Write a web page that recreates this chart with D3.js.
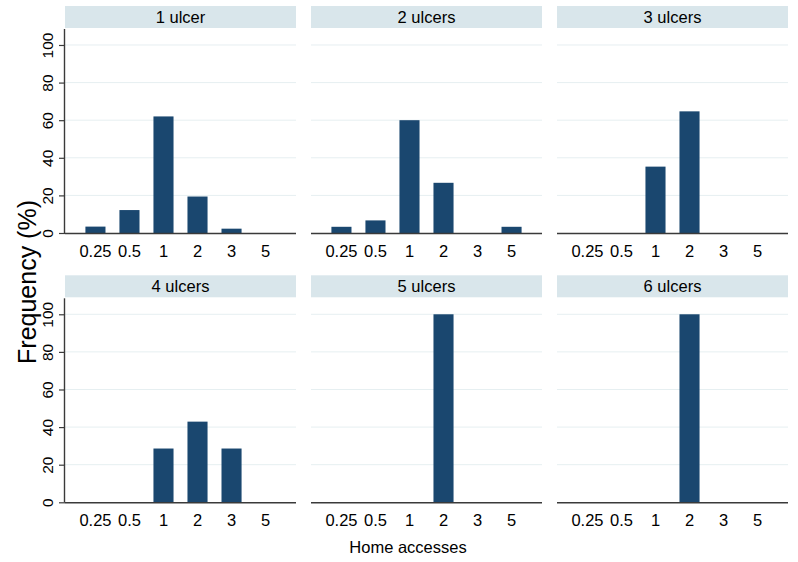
<!DOCTYPE html>
<html>
<head>
<meta charset="utf-8">
<script src="https://cdn.jsdelivr.net/npm/d3@7"></script>
<style>
  html, body { margin: 0; padding: 0; background: #fff; }
  text { font-family: "Liberation Sans", Arial, Helvetica, sans-serif; fill: #000; }
</style>
</head>
<body>
<svg id="chart" width="798" height="562"></svg>
<script>
// ---- data ----
const categories = ["0.25", "0.5", "1", "2", "3", "5"];
const panelTitles = ["1 ulcer", "2 ulcers", "3 ulcers", "4 ulcers", "5 ulcers", "6 ulcers"];
const ulcer1 = [3.4, 12.2, 62.0, 19.4, 2.3, 0];
const ulcer2 = [3.3, 6.7, 60.0, 26.7, 0, 3.3];
const ulcer3 = [0, 0, 35.3, 64.7, 0, 0];
const ulcer4 = [0, 0, 28.6, 42.9, 28.6, 0];
const ulcer5 = [0, 0, 0, 100, 0, 0];
const ulcer6 = [0, 0, 0, 100, 0, 0];
const yTicks = [0, 20, 40, 60, 80, 100];
const xTitle = "Home accesses";
const yTitle = "Frequency (%)";

const series = [ulcer1, ulcer2, ulcer3, ulcer4, ulcer5, ulcer6];

// ---- layout ----
const svg = d3.select("#chart");
const colX = [65, 311, 557];
const panelW = 231;
const rowTop = [6, 275.3];      // strip top
const stripH = 22;
const plotH = 204;              // from strip bottom+1 to baseline
const yMax = 108.5;

const barColor = "#1a476f";
const stripColor = "#d9e6eb";
const gridColor = "#e6eff1";
const axisColor = "#3a3a3a";
const FONT = "'Liberation Sans', Arial, sans-serif";

series.forEach((vals, i) => {
  const col = i % 3, row = Math.floor(i / 3);
  const x0 = colX[col], x1 = x0 + panelW;
  const sTop = rowTop[row];
  const pTop = sTop + stripH + 1;
  const pBot = pTop + plotH;

  const g = svg.append("g");

  // strip
  g.append("rect").attr("x", x0).attr("y", sTop).attr("width", panelW).attr("height", stripH)
    .attr("fill", stripColor);
  g.append("text").attr("x", (x0 + x1) / 2).attr("y", sTop + 16.5)
    .attr("text-anchor", "middle").style("font-size", "16.5px").text(panelTitles[i]);

  const x = d3.scaleBand().domain(categories).range([x0, x1])
    .paddingInner(0.41).paddingOuter(0.6);
  const y = d3.scaleLinear().domain([0, yMax]).range([pBot, pTop]);

  // gridlines
  g.append("g").selectAll("line").data(yTicks.filter(t => t > 0)).join("line")
    .attr("x1", x0).attr("x2", x1)
    .attr("y1", d => y(d)).attr("y2", d => y(d))
    .attr("stroke", gridColor).attr("stroke-width", 1);

  // bars
  const data = categories.map((c, k) => ({ c, v: vals[k] })).filter(d => d.v > 0);
  g.append("g").selectAll("rect").data(data).join("rect")
    .attr("x", d => x(d.c)).attr("width", x.bandwidth())
    .attr("y", d => y(d.v)).attr("height", d => y(0) - y(d.v))
    .attr("fill", barColor);

  // x axis
  const xAxis = d3.axisBottom(x).tickSize(0).tickPadding(0);
  const xa = g.append("g").attr("transform", `translate(0,${pBot})`).call(xAxis);
  xa.select(".domain").attr("d", `M${x0},0.5H${x1}`).attr("stroke", axisColor).attr("stroke-width", 1.4);
  xa.selectAll(".tick text").attr("y", 23.5).attr("dy", null)
    .style("font-size", "16.5px").style("font-family", FONT).attr("fill", "#000");

  // y axis (first column only)
  if (col === 0) {
    const yAxis = d3.axisLeft(y).tickValues(yTicks).tickSize(6).tickPadding(0);
    const ya = g.append("g").attr("transform", `translate(${x0},0)`).call(yAxis);
    ya.select(".domain").attr("d", `M-0.5,${pTop}V${pBot}`).attr("stroke", axisColor).attr("stroke-width", 1.4);
    ya.selectAll(".tick line").attr("stroke", axisColor).attr("stroke-width", 1.2);
    ya.selectAll(".tick text")
      .attr("x", null).attr("dy", null)
      .attr("transform", "translate(-12,0) rotate(-90)")
      .attr("text-anchor", "middle").attr("y", 0)
      .style("font-size", "15.5px").style("font-family", FONT).attr("fill", "#000");
  }
});

// axis titles
svg.append("text").attr("x", 408).attr("y", 553).attr("text-anchor", "middle")
  .style("font-size", "16.5px").text(xTitle);
svg.append("text").attr("transform", "translate(36,282) rotate(-90)")
  .attr("text-anchor", "middle").style("font-size", "25px").text(yTitle);
</script>
</body>
</html>
